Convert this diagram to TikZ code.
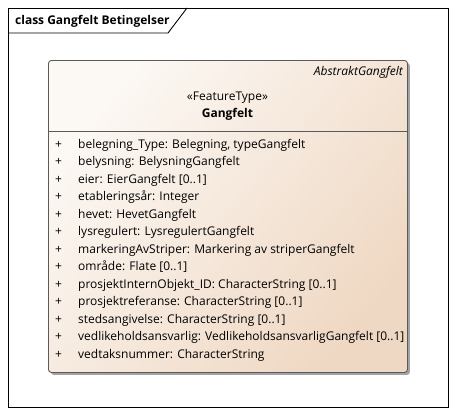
\documentclass[tikz,border=0pt]{standalone}
\usepackage{fontspec}
\setmainfont{Open Sans}
\usetikzlibrary{positioning,shadows}
\definecolor{boxlight}{HTML}{FCF8F4}
\definecolor{boxdark}{HTML}{EFD8C3}
\definecolor{edge}{HTML}{5A5A5A}

\begin{document}
\begin{tikzpicture}[x=1pt, y=-1pt,
  frame/.style = {draw, line width=0.9pt},
  cls/.style   = {draw=edge, line width=0.9pt, rounded corners=3pt,
                  top color=boxlight, bottom color=boxdark, shading angle=50,
                  drop shadow={shadow xshift=2.5pt, shadow yshift=-2.5pt,
                               fill=black!45, opacity=0.8},
                  minimum width=359pt, minimum height=312pt, inner sep=0pt},
  txt/.style   = {font=\fontsize{12}{14}\selectfont, inner sep=0pt},
  attrs/.style = {font=\fontsize{12}{17.5}\selectfont, align=left,
                  inner sep=0pt, anchor=north west},
]
  \useasboundingbox (0,0) rectangle (456,416);

  % diagram frame
  \draw[frame] (8,8) rectangle (448,407);
  \coordinate (tabtop) at (187,8);
  \coordinate (tabbot) at (168,33);
  \draw[frame] (tabtop) -- (tabbot) -- (8,33);
  \node[txt, font=\fontsize{12}{14}\selectfont\bfseries, anchor=west]
    (title) at (15,21) {class Gangfelt Betingelser};

  % the class
  \node[cls, anchor=north west] (gangfelt) at (48,60) {};
  \draw[edge, line width=0.9pt] (gangfelt.west |- 0,131) -- (gangfelt.east |- 0,131);

  \node[txt, font=\fontsize{12}{14}\selectfont\itshape, anchor=east]
    (parent) at (403,72) {AbstraktGangfelt};
  \node[txt] (stereo) at (227.5,98) {«FeatureType»};
  \node[txt, font=\fontsize{12}{14}\selectfont\bfseries, below=4pt of stereo]
    (name) {Gangfelt};

  \node[attrs] (attrlist) at (55,139)
    {\makebox[23pt][l]{+}belegning\_Type: Belegning, typeGangfelt\\
     \makebox[23pt][l]{+}belysning: BelysningGangfelt\\
     \makebox[23pt][l]{+}eier: EierGangfelt [0..1]\\
     \makebox[23pt][l]{+}etableringsår: Integer\\
     \makebox[23pt][l]{+}hevet: HevetGangfelt\\
     \makebox[23pt][l]{+}lysregulert: LysregulertGangfelt\\
     \makebox[23pt][l]{+}markeringAvStriper: Markering av striperGangfelt\\
     \makebox[23pt][l]{+}område: Flate [0..1]\\
     \makebox[23pt][l]{+}prosjektInternObjekt\_ID: CharacterString [0..1]\\
     \makebox[23pt][l]{+}prosjektreferanse: CharacterString [0..1]\\
     \makebox[23pt][l]{+}stedsangivelse: CharacterString [0..1]\\
     \makebox[23pt][l]{+}vedlikeholdsansvarlig: VedlikeholdsansvarligGangfelt [0..1]\\
     \makebox[23pt][l]{+}vedtaksnummer: CharacterString};
\end{tikzpicture}
\end{document}
